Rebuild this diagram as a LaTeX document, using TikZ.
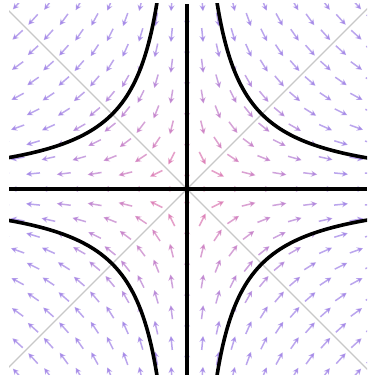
\documentclass[tikz,border=0pt]{standalone}
\usetikzlibrary{arrows.meta}
\definecolor{nearc}{RGB}{236,118,165}
\definecolor{farc}{RGB}{158,128,230}
\definecolor{diagc}{RGB}{200,200,200}
\tikzset{
  vecarrow/.style={line width=1.5pt,opacity=0.7,-{Stealth[length=6pt,width=6pt]}},
  curvestyle/.style={line width=3.6pt,black,line cap=round},
  axisstyle/.style={line width=3.2pt,black},
  diagstyle/.style={line width=1.2pt,diagc}
}
\begin{document}
\begin{tikzpicture}[x=1pt,y=1pt]
\useasboundingbox (0,0) rectangle (367,375);
\fill[white] (0,0) rectangle (367,375);
\begin{scope}[shift={(187,186)}]
  \clip (-178,-186) rectangle (180,185);
  % diagonals
  \draw[diagstyle] (-190,-190) -- (190,190);
  \draw[diagstyle] (-190,190) -- (190,-190);
  % vector field (x,-y), normalised
  \def\gs{15.4}
  \foreach \i in {-12,...,12}{
    \foreach \j in {-13,...,13}{
      \ifodd\numexpr\i+\j\relax
        \pgfmathsetmacro{\px}{\i*\gs}
        \pgfmathsetmacro{\py}{\j*\gs}
        \pgfmathsetmacro{\rr}{veclen(\px,\py)}
        \pgfmathsetmacro{\ddx}{7*\px/\rr}
        \pgfmathsetmacro{\ddy}{-7*\py/\rr}
        \pgfmathsetmacro{\ax}{\px-\ddx}
        \pgfmathsetmacro{\ay}{\py-\ddy}
        \pgfmathsetmacro{\bx}{\px+\ddx}
        \pgfmathsetmacro{\by}{\py+\ddy}
        \pgfmathtruncatemacro{\cmix}{min(100,\rr/1.5)}
        \colorlet{cur}{farc!\cmix!nearc}
        \draw[vecarrow,cur] (\ax,\ay) -- (\bx,\by);
      \fi
    }
  }
  % hyperbolas xy = +-c
  \draw[curvestyle] plot[smooth,domain=29.5:182,samples=120] (\x,{5600/\x});
  \draw[curvestyle] plot[smooth,domain=29.5:182,samples=120] (-\x,{5600/\x});
  \draw[curvestyle] plot[smooth,domain=29.5:182,samples=120] (\x,{-5600/\x});
  \draw[curvestyle] plot[smooth,domain=29.5:182,samples=120] (-\x,{-5600/\x});
  % axes
  \draw[axisstyle] (-178,0) -- (180,0);
  \draw[axisstyle] (0,-186) -- (0,185);
\end{scope}
\end{tikzpicture}
\end{document}
